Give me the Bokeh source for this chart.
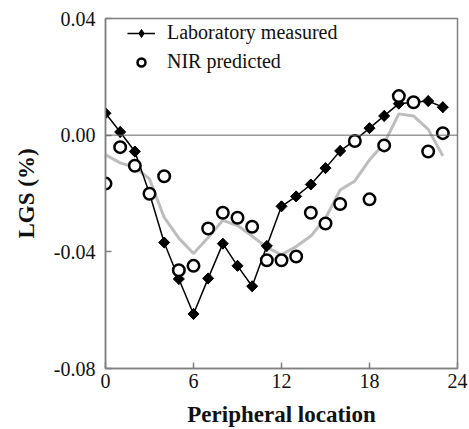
import math
from bokeh.plotting import figure
from bokeh.models import Range1d, FixedTicker, NumeralTickFormatter, Span, Legend, LegendItem
from bokeh.embed import file_html
from bokeh.resources import INLINE

# ---- data ----
positions = list(range(24))
lab_measured = [0.0075, 0.0011, -0.0056, -0.0200, -0.0368, -0.0493, -0.0613, -0.0491,
                -0.0372, -0.0448, -0.0518, -0.0380, -0.0244, -0.0210, -0.0169, -0.0113,
                -0.0054, -0.0018, 0.0024, 0.0066, 0.0108, 0.0113, 0.0117, 0.0096]
nir_predicted = [-0.0166, -0.0041, -0.0105, -0.0201, -0.0141, -0.0463, -0.0448, -0.0320,
                 -0.0266, -0.0283, -0.0314, -0.0429, -0.0429, -0.0416, -0.0266, -0.0303,
                 -0.0236, -0.0020, -0.0220, -0.0035, 0.0134, 0.0113, -0.0056, 0.0007]
nir_smoothed = [-0.0067, -0.0095, -0.0110, -0.0150, -0.0282, -0.0353, -0.0406, -0.0351,
                -0.0292, -0.0310, -0.0346, -0.0385, -0.0410, -0.0382, -0.0346, -0.0285,
                -0.0188, -0.0157, -0.0085, -0.0028, 0.0073, 0.0066, 0.0020, -0.0071]
x_ticks = [0, 6, 12, 18, 24]
y_ticks = [-0.08, -0.04, 0.0, 0.04]

FONT = "Liberation Serif"

p = figure(width=469, height=429, output_backend="svg", toolbar_location=None,
           x_range=Range1d(0, 24), y_range=Range1d(-0.08, 0.04),
           min_border_left=105, min_border_right=12, min_border_top=18, min_border_bottom=59)
p.grid.visible = False
p.outline_line_color = "#808080"
p.outline_line_width = 1.5

for ax in (p.xaxis[0], p.yaxis[0]):
    ax.axis_line_color = "#808080"
    ax.axis_line_width = 1.5
    ax.major_tick_line_color = "#808080"
    ax.major_tick_line_width = 1.5
    ax.major_tick_in = 6
    ax.major_tick_out = 0
    ax.minor_tick_line_color = None
    ax.major_label_text_font = FONT
    ax.major_label_text_font_size = "20px"
    ax.major_label_text_color = "#111111"
    ax.axis_label_text_font = FONT
    ax.axis_label_text_font_style = "bold"
    ax.axis_label_text_color = "#111111"

p.xaxis.ticker = FixedTicker(ticks=x_ticks)
p.yaxis.ticker = FixedTicker(ticks=y_ticks)
p.yaxis.formatter = NumeralTickFormatter(format="0.00")
p.xaxis.axis_label = "Peripheral location"
p.yaxis.axis_label = "LGS (%)"
p.xaxis.axis_label_text_font_size = "23px"
p.yaxis.axis_label_text_font_size = "23px"
p.xaxis.major_label_standoff = 5
p.xaxis.axis_label_standoff = 11
p.yaxis.major_label_standoff = 10
p.yaxis.axis_label_standoff = 12

p.add_layout(Span(location=0, dimension="width", line_color="#666666", line_width=1))

p.line(positions, nir_smoothed, line_color="#bdbdbd", line_width=3)
lab_line = p.line(positions, lab_measured, line_color="black", line_width=1.5)
# diamond glyph used as the legend key; fully covered by the rotated squares below
lab_key = p.scatter(positions, lab_measured, marker="diamond", size=10.5,
                    fill_color="black", line_color="black")
lab_pts = p.scatter(positions, lab_measured, marker="square", angle=math.pi / 4, size=7.8,
                    fill_color="black", line_color="black")
nir_pts = p.scatter(positions, nir_predicted, marker="circle", size=11.5, fill_color="white",
                    line_color="black", line_width=2.5)

legend = Legend(items=[LegendItem(label="Laboratory measured", renderers=[lab_line, lab_key]),
                       LegendItem(label="NIR predicted", renderers=[nir_pts])],
                location=(22, 295), border_line_color=None, background_fill_alpha=0,
                label_text_font=FONT, label_text_font_size="20px", label_text_color="#111111",
                glyph_width=28, glyph_height=20, label_height=20, spacing=6,
                label_standoff=12, padding=0, margin=0)
p.add_layout(legend, "center")

open("out.html", "w").write(file_html(p, INLINE))
